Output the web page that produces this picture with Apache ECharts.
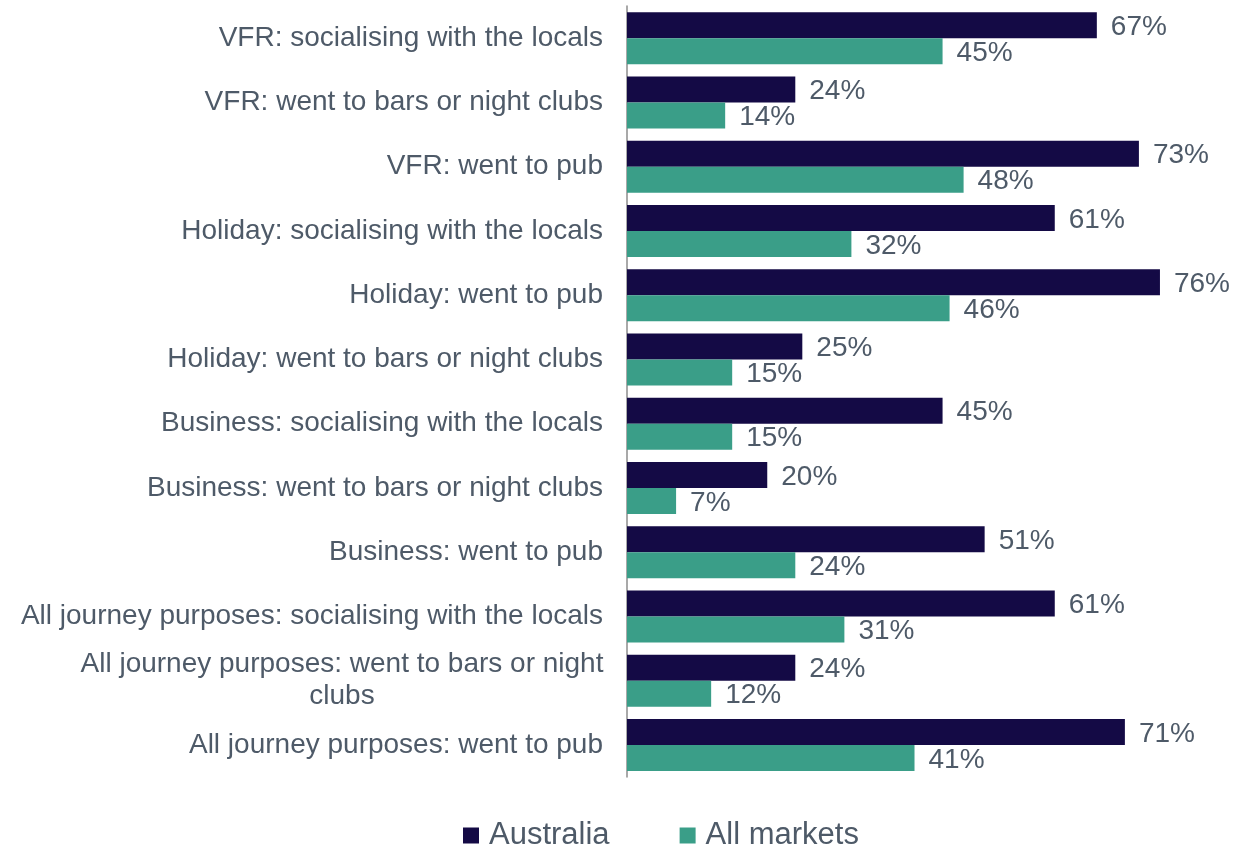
<!DOCTYPE html>
<html>
<head>
<meta charset="utf-8">
<script src="https://cdn.jsdelivr.net/npm/echarts@6/dist/echarts.min.js"></script>
<style>
  html, body { margin: 0; padding: 0; background: #fff; }
  #chart { width: 1234px; height: 846px; }
</style>
</head>
<body>
<div id="chart"></div>
<script>
const categories = [
  "VFR: socialising with the locals",
  "VFR: went to bars or night clubs",
  "VFR: went to pub",
  "Holiday: socialising with the locals",
  "Holiday: went to pub",
  "Holiday: went to bars or night clubs",
  "Business: socialising with the locals",
  "Business: went to bars or night clubs",
  "Business: went to pub",
  "All journey purposes: socialising with the locals",
  "All journey purposes: went to bars or night\nclubs",
  "All journey purposes: went to pub",
];
const australia = [67, 24, 73, 61, 76, 25, 45, 20, 51, 61, 24, 71];
const allMarkets = [45, 14, 48, 32, 46, 15, 15, 7, 24, 31, 12, 41];

const FONT = 'Arial, "Liberation Sans", sans-serif';
const TEXT = "#4e5a68";

const chart = echarts.init(document.getElementById("chart"));

const valueLabel = {
  show: true,
  position: "right",
  distance: 14,
  offset: [0, 2],
  fontSize: 28,
  fontFamily: FONT,
  color: TEXT,
  formatter: "{c}%",
};

chart.setOption({
  animation: false,
  grid: {
    left: 627,
    right: 46,
    top: 6,
    bottom: 69,
    containLabel: false,
  },
  legend: {
    data: ["Australia", "All markets"],
    left: 458,
    top: 815,
    icon: "rect",
    itemWidth: 16,
    itemHeight: 16,
    itemGap: 70,
    textStyle: {
      fontSize: 31,
      fontFamily: FONT,
      color: TEXT,
      padding: [0, 0, 0, 5],
    },
  },
  xAxis: {
    type: "value",
    min: 0,
    max: 80,
    show: false,
    splitLine: { show: false },
  },
  yAxis: {
    type: "category",
    inverse: true,
    data: categories,
    axisLine: { show: true, lineStyle: { color: "#8c8c8c", width: 1.5 } },
    axisTick: { show: false },
    axisLabel: {
      margin: 24,
      fontSize: 28,
      fontFamily: FONT,
      color: TEXT,
      lineHeight: 32,
      formatter: (v) => (v.indexOf("\n") >= 0 ? "{c|" + v + "}" : v),
      rich: {
        c: {
          width: 522,
          align: "center",
          fontSize: 28,
          fontFamily: FONT,
          color: TEXT,
          lineHeight: 32,
        },
      },
    },
  },
  series: [
    {
      name: "Australia",
      type: "bar",
      data: australia,
      barWidth: 26,
      barGap: "0%",
      itemStyle: { color: "#140a45" },
      label: valueLabel,
    },
    {
      name: "All markets",
      type: "bar",
      data: allMarkets,
      barWidth: 26,
      itemStyle: { color: "#3a9e88" },
      label: valueLabel,
    },
  ],
});
</script>
</body>
</html>
